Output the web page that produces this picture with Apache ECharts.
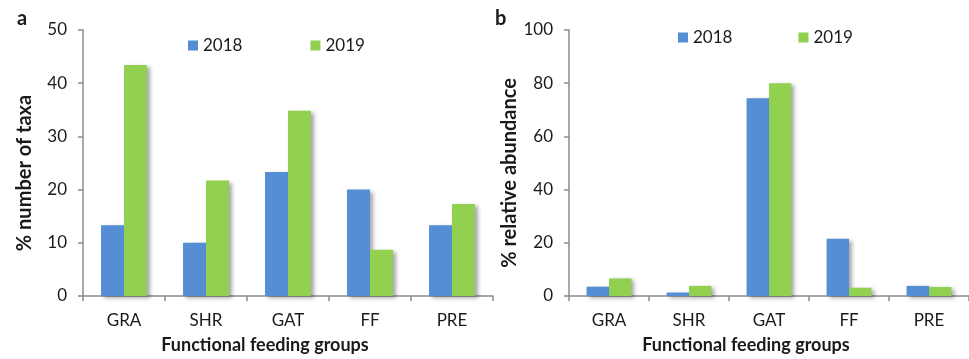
<!DOCTYPE html>
<html>
<head>
<meta charset="utf-8">
<script src="https://cdn.jsdelivr.net/npm/echarts@6/dist/echarts.min.js"></script>
<style>
  html, body { margin: 0; padding: 0; background: #fff; }
  #chart { width: 969px; height: 359px; }
</style>
</head>
<body>
<div id="chart"></div>
<script>
// Functional feeding groups of macroinvertebrates, 2018 vs 2019
const categories = ['GRA', 'SHR', 'GAT', 'FF', 'PRE'];
const seriesNames = ['2018', '2019'];

// Panel a: % number of taxa
const taxa2018 = [13.3, 10.0, 23.3, 20.0, 13.3];
const taxa2019 = [43.4, 21.7, 34.8, 8.7, 17.3];

// Panel b: % relative abundance
const abund2018 = [3.5, 1.3, 74.3, 21.5, 3.8];
const abund2019 = [6.6, 3.8, 80.0, 3.1, 3.4];

const blue = '#558ED5';
const green = '#92D050';
const axisGray = '#8C8C8C';
const textColor = '#1a1a1a';
const font = 'Lato, "Open Sans", sans-serif';

const chart = echarts.init(document.getElementById('chart'), null, { renderer: 'canvas' });

function xAxis(gridIndex) {
  return {
    type: 'category',
    gridIndex,
    data: categories,
    name: 'Functional feeding groups',
    nameLocation: 'middle',
    nameGap: 40,
    // axis title sits a little left of the plot centre
    nameTextStyle: { fontFamily: font, fontWeight: 'bold', fontSize: 18, color: textColor, padding: [0, 46, 0, 0] },
    axisLine: { lineStyle: { color: axisGray, width: 1.5 } },
    axisTick: { show: true, length: 5, lineStyle: { color: axisGray, width: 1.5 } },
    axisLabel: { fontFamily: font, fontSize: 17, color: textColor, margin: 16 },
    splitLine: { show: false }
  };
}

function yAxis(gridIndex, max, interval, name) {
  return {
    type: 'value',
    gridIndex,
    min: 0,
    max,
    interval,
    name,
    nameLocation: 'middle',
    nameGap: 48,
    // shifted slightly below the plot centre
    nameTextStyle: { fontFamily: font, fontWeight: 'bold', fontSize: 20, color: textColor, padding: [0, 20, 0, 0] },
    axisLine: { show: true, lineStyle: { color: axisGray, width: 1.5 } },
    axisTick: { show: true, length: 5, lineStyle: { color: axisGray, width: 1.5 } },
    axisLabel: { fontFamily: font, fontSize: 17, color: textColor, margin: 16 },
    splitLine: { show: false }
  };
}

const barShadow = {
  shadowColor: 'rgba(0,0,0,0.35)',
  shadowBlur: 4,
  shadowOffsetX: 3,
  shadowOffsetY: 2
};

function bar(name, data, color, axisIndex) {
  return {
    type: 'bar',
    name,
    data,
    xAxisIndex: axisIndex,
    yAxisIndex: axisIndex,
    barGap: '0%',
    barCategoryGap: '44%',
    itemStyle: Object.assign({ color }, barShadow),
    emphasis: { disabled: true }
  };
}

function legend(left, top, gap) {
  return {
    left,
    top,
    data: seriesNames,
    icon: 'rect',
    itemWidth: 10,
    itemHeight: 10,
    itemGap: gap,
    selectedMode: false,
    textStyle: { fontFamily: font, fontSize: 17, color: textColor, padding: [0, 0, 0, 0] }
  };
}

chart.setOption({
  animation: false,
  backgroundColor: '#ffffff',
  color: [blue, green],
  title: [
    { text: 'a', left: 12, top: 4, textStyle: { fontFamily: font, fontWeight: 'bold', fontSize: 20, color: textColor } },
    { text: 'b', left: 490, top: 4, textStyle: { fontFamily: font, fontWeight: 'bold', fontSize: 20, color: textColor } }
  ],
  legend: [legend(183, 32, 68), legend(673, 24, 66)],
  grid: [
    { left: 83, top: 30, width: 410, height: 268 },
    { left: 569, top: 30, width: 403, height: 267 }
  ],
  xAxis: [xAxis(0), xAxis(1)],
  yAxis: [yAxis(0, 50, 10, '% number of taxa'), yAxis(1, 100, 20, '% relative abundance')],
  series: [
    bar('2018', taxa2018, blue, 0),
    bar('2019', taxa2019, green, 0),
    bar('2018', abund2018, blue, 1),
    bar('2019', abund2019, green, 1)
  ]
});
</script>
</body>
</html>
